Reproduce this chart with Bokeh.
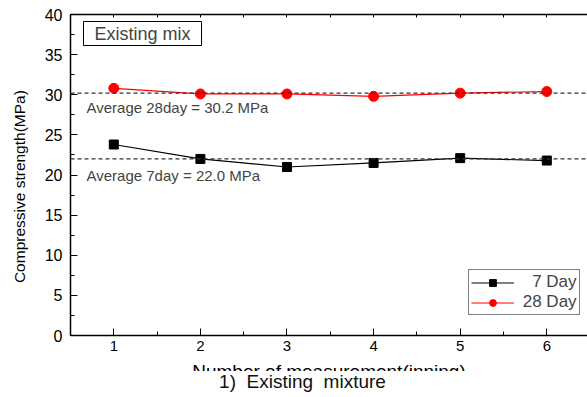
from bokeh.plotting import figure
from bokeh.models import (ColumnDataSource, Range1d, FixedTicker, SingleIntervalTicker,
                          LinearAxis, Span, Label, Legend, LegendItem)
from bokeh.embed import file_html
from bokeh.resources import INLINE

# Compressive strength per measurement (MPa)
measurement = [1, 2, 3, 4, 5, 6]
day7 = [23.8, 22.0, 21.0, 21.5, 22.1, 21.8]
day28 = [30.8, 30.1, 30.1, 29.8, 30.2, 30.4]
avg7 = 22.0
avg28 = 30.2
x_ticks = [1, 2, 3, 4, 5, 6]
x_minor = [0.5, 1.5, 2.5, 3.5, 4.5, 5.5, 6.5]

FONT = "Liberation Sans"
H = 397          # canvas height; the frame runs to the bottom edge
Y0 = 335         # screen row of strength = 0

# the frame reaches below zero so the caption can sit under the x axis
p = figure(width=587, height=H, output_backend="svg", toolbar_location=None,
           x_range=Range1d(0.5, 6.47), y_range=Range1d(-(H - Y0) / ((Y0 - 14) / 40), 40),
           min_border_left=70, min_border_right=0, min_border_top=14,
           min_border_bottom=0, outline_line_color=None,
           background_fill_color="white", border_fill_color="white")
p.grid.visible = False

# bottom axis, pinned at strength = 0
xa = p.xaxis[0]
xa.fixed_location = 0
xa.ticker = FixedTicker(ticks=x_ticks, minor_ticks=x_minor)
xa.axis_label = "Number of measurement(inning)"
xa.axis_label_text_font = FONT
xa.axis_label_text_font_size = "19px"
xa.axis_label_text_font_style = "normal"
xa.axis_label_standoff = 7
xa.major_label_text_font = FONT
xa.major_label_text_font_size = "15px"
xa.major_label_standoff = 5

# left axis; leading no-break spaces lift the title to the middle of 0-40
ya = p.yaxis[0]
ya.bounds = (0, 40)
ya.ticker = SingleIntervalTicker(interval=5, num_minor_ticks=2)
ya.axis_label = "\u00a0" * 9 + "Compressive strength(MPa)"
ya.axis_label_text_font = FONT
ya.axis_label_text_font_size = "15.5px"
ya.axis_label_text_font_style = "normal"
ya.axis_label_standoff = 14
ya.major_label_text_font = FONT
ya.major_label_text_font_size = "16px"
ya.major_label_standoff = 8

for ax in (xa, ya):
    ax.axis_line_color = "black"
    ax.axis_line_width = 1.5
    ax.major_tick_in = 7
    ax.major_tick_out = 0
    ax.minor_tick_in = 4
    ax.minor_tick_out = 0
    ax.major_tick_line_color = "black"
    ax.minor_tick_line_color = "black"
    ax.major_label_text_color = "black"
    ax.axis_label_text_color = "black"

# top frame line with small notches, no labels
top = LinearAxis(ticker=FixedTicker(ticks=[], minor_ticks=sorted(x_ticks + x_minor)),
                 axis_line_width=1.5, axis_line_color="black",
                 major_tick_in=0, major_tick_out=0,
                 minor_tick_in=3, minor_tick_out=0, minor_tick_line_color="black")
p.add_layout(top, "above")

# average lines
for v in (avg28, avg7):
    p.add_layout(Span(location=v, dimension="width", line_color="#333333",
                      line_dash="4 3", line_width=1.2))

src = ColumnDataSource(dict(x=measurement, d7=day7, d28=day28))
l7 = p.line("x", "d7", source=src, line_color="black", line_width=1.2)
m7 = p.scatter("x", "d7", source=src, marker="square", size=9,
               fill_color="black", line_color="black")
l28 = p.line("x", "d28", source=src, line_color="red", line_width=1.2)
m28 = p.scatter("x", "d28", source=src, marker="circle", size=10,
                fill_color="red", line_color="red")

legend = Legend(items=[LegendItem(label="\u00a0\u00a0\u00a07 Day", renderers=[l7, m7]),
                       LegendItem(label="\u00a028 Day", renderers=[l28, m28])],
                location=(398, H - 315), orientation="vertical",
                label_text_font=FONT, label_text_font_size="17px",
                label_height=17, glyph_height=17, glyph_width=43,
                label_standoff=4, spacing=0, padding=2, margin=0,
                border_line_color="black", border_line_width=1,
                background_fill_color="white", background_fill_alpha=1)
p.add_layout(legend, "center")

# panel title box
p.add_layout(Label(x=13, y=H - 33, x_units="screen", y_units="screen",
                   text="Existing mix", text_font=FONT, text_font_size="18px",
                   text_baseline="middle", padding=(11, 11, 2, 2),
                   border_line_color="black", border_line_width=1,
                   background_fill_color="white"))

# average annotations
p.add_layout(Label(x=16, y=H - 107, x_units="screen", y_units="screen",
                   text="Average 28day = %.1f MPa" % avg28, text_font=FONT,
                   text_font_size="15px", text_baseline="middle"))
p.add_layout(Label(x=16, y=H - 175, x_units="screen", y_units="screen",
                   text="Average 7day = %.1f MPa" % avg7, text_font=FONT,
                   text_font_size="15px", text_baseline="middle"))

# caption beneath the chart; its white box hides the lower half of the axis title
p.add_layout(Label(x=232, y=H - 384, x_units="screen", y_units="screen",
                   text="1)\u00a0\u00a0Existing\u00a0\u00a0mixture", text_font=FONT,
                   text_font_size="19px", text_color="#111111",
                   text_align="center", text_baseline="middle",
                   padding=(95, 95, 0, 6), background_fill_color="white"))

open("out.html", "w").write(file_html(p, INLINE))
